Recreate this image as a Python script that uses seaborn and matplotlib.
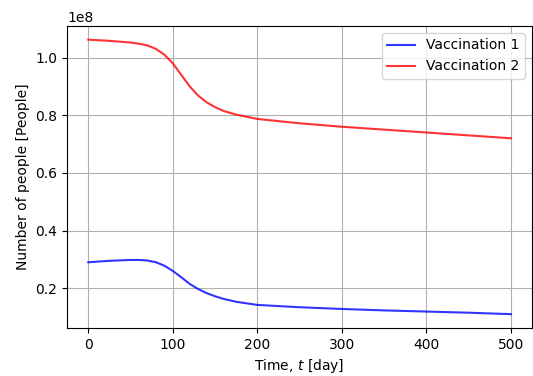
import matplotlib
matplotlib.use("Agg")
import matplotlib.pyplot as plt
import seaborn as sns
import pandas as pd

t = [0, 25, 50, 60, 70, 80, 90, 100, 110, 120, 130, 140, 150, 160, 175, 200, 250, 300, 350, 400, 450, 500]
vacc1 = [0.290, 0.295, 0.298, 0.298, 0.296, 0.290, 0.278, 0.260, 0.238, 0.215, 0.197, 0.183, 0.172, 0.163, 0.153, 0.142, 0.134, 0.128, 0.123, 0.119, 0.115, 0.110]
vacc2 = [1.062, 1.058, 1.052, 1.048, 1.042, 1.030, 1.010, 0.980, 0.940, 0.900, 0.868, 0.845, 0.828, 0.815, 0.802, 0.787, 0.772, 0.760, 0.750, 0.740, 0.730, 0.720]
labels = ["Vaccination 1", "Vaccination 2"]
colors = ["blue", "red"]

df = pd.DataFrame({"t": t, "v1": [v * 1e8 for v in vacc1], "v2": [v * 1e8 for v in vacc2]})

fig = plt.figure(figsize=(5.33, 3.76), dpi=100)
ax = fig.add_axes([0.126, 0.128, 0.872, 0.803])
sns.lineplot(data=df, x="t", y="v1", color=colors[0], alpha=0.8, label=labels[0], ax=ax, linewidth=1.5)
sns.lineplot(data=df, x="t", y="v2", color=colors[1], alpha=0.8, label=labels[1], ax=ax, linewidth=1.5)
ax.grid(True)
ax.set_xlabel("Time, $t$ [day]")
ax.set_ylabel("Number of people [People]")
ax.set_xticks([0, 100, 200, 300, 400, 500])
ax.legend(loc="upper right")
fig.savefig("out.png", dpi=100)
